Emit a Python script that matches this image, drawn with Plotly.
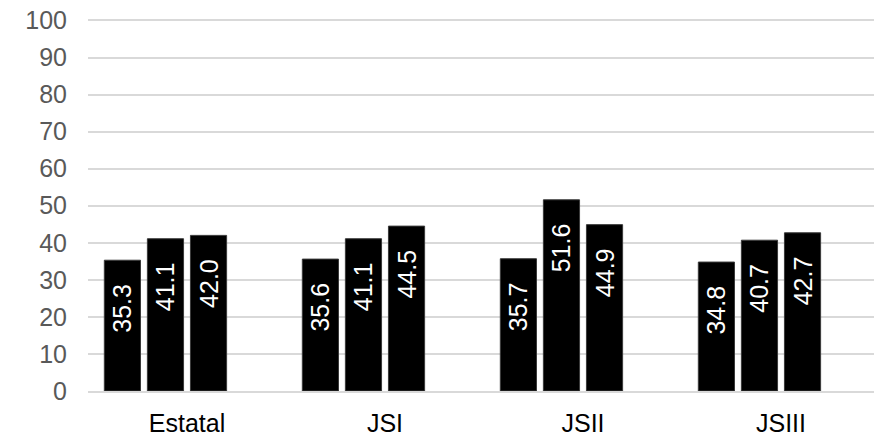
import plotly.graph_objects as go

# datos
regiones = ['Estatal', 'JSI', 'JSII', 'JSIII']
serie_1 = [35.3, 35.6, 35.7, 34.8]
serie_2 = [41.1, 41.1, 51.6, 40.7]
serie_3 = [42.0, 44.5, 44.9, 42.7]
serie_4 = [0, 0, 0, 0]  # serie vacia, solo ocupa el hueco
y_ticks = list(range(0, 101, 10))

fuente = 'Liberation Sans, Arial, sans-serif'

fig = go.Figure()
for vals in [serie_1, serie_2, serie_3]:
    fig.add_trace(go.Bar(x=regiones, y=vals,
                         marker_color='#000000',
                         marker_line=dict(color='#3a3a3a', width=1),
                         texttemplate='%{y:.1f}\u00a0\u00a0\u00a0',
                         textposition='inside', insidetextanchor='end',
                         textangle=-90, constraintext='none',
                         textfont=dict(family=fuente, size=25, color='white')))
fig.add_trace(go.Bar(x=regiones, y=serie_4, marker_color='white', hoverinfo='skip'))

# la pagina deja 8px de margen al body, se compensa aqui
fig.update_layout(width=874, height=425, template='none',
                  margin=dict(l=80, r=2, t=11, b=42),
                  barmode='group', bargap=0.13, bargroupgap=0.16,
                  showlegend=False, plot_bgcolor='white', paper_bgcolor='white',
                  font=dict(family=fuente))
fig.update_yaxes(range=[0, 100.4], tickvals=y_ticks, showgrid=True, automargin=False,
                 gridcolor='#d9d9d9', gridwidth=1.5, showline=False, ticks='',
                 zeroline=False, ticklabelstandoff=20, ticklabeloverflow='allow',
                 tickfont=dict(family=fuente, size=25, color='#595959'))
fig.update_xaxes(showline=True, linecolor='#d9d9d9', linewidth=1.5, ticks='',
                 showgrid=False, automargin=False, ticklabelstandoff=9,
                 tickfont=dict(family=fuente, size=25, color='#000000'))

fig.write_html('out.html')
